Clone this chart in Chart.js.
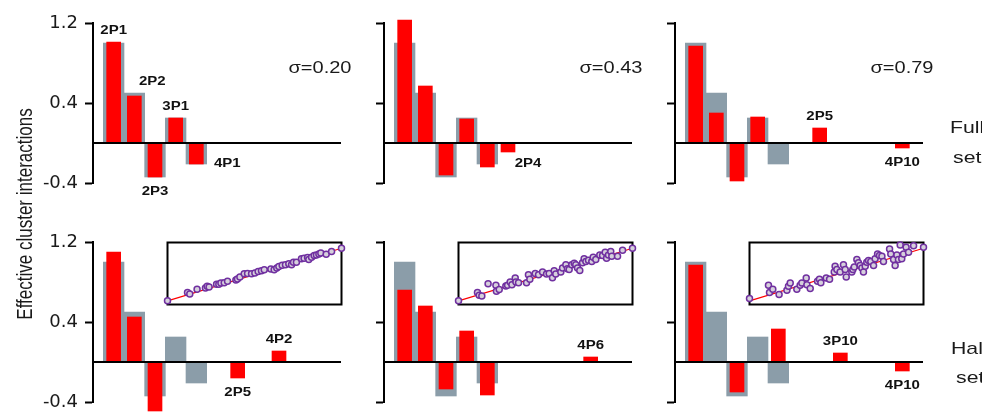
<!DOCTYPE html>
<html>
<head>
<meta charset="utf-8">
<title>Effective cluster interactions</title>
<script src="https://cdn.jsdelivr.net/npm/chart.js@4.4.1/dist/chart.umd.min.js"></script>
<style>
  body { margin: 0; background: #fff; }
  #fig { position: relative; width: 982px; height: 412px; overflow: hidden; }
  #fig canvas { position: absolute; }
</style>
</head>
<body>
<div id="fig">
  <canvas id="text" width="982" height="412" style="left:0;top:0"></canvas>
</div>
<script>
// noise level of each column
const sigmas = ['0.20', '0.43', '0.79'];
const yTicks = [-0.4, 0.4, 1.2];

// target ECIs (grey), the same in every panel
const truePos = [1, 2, 3, 4, 5];
const trueVals = [1.0, 0.5, -0.34, 0.25, -0.21];

// fitted ECIs (red), full training set
const fullPos = [[1, 2, 3, 4, 5], [1, 2, 3, 4, 5, 6], [1, 2, 3, 4, 7, 11]];
const fullVals = [
  [1.01, 0.47, -0.34, 0.25, -0.21],
  [1.23, 0.57, -0.32, 0.24, -0.24, -0.09],
  [0.97, 0.30, -0.38, 0.26, 0.15, -0.05]
];

// fitted ECIs (red), half training set
const halfPos = [[1, 2, 3, 7, 9], [1, 2, 3, 4, 5, 10], [1, 3, 5, 8, 11]];
const halfVals = [
  [1.10, 0.45, -0.49, -0.16, 0.11],
  [0.72, 0.56, -0.27, 0.31, -0.33, 0.05],
  [0.97, -0.30, 0.33, 0.09, -0.09]
];

// cluster names: [name, slot, side of the bar]
const fullLabels = [
  [['2P1', 1, 'above'], ['2P2', 2, 'aboveRight'], ['3P1', 4, 'above'], ['2P3', 3, 'below'], ['4P1', 5, 'right']],
  [['2P4', 6, 'belowRight']],
  [['2P5', 7, 'above'], ['4P10', 11, 'below']]
];
const halfLabels = [
  [['2P5', 7, 'below'], ['4P2', 9, 'above']],
  [['4P6', 10, 'above']],
  [['3P10', 8, 'above'], ['4P10', 11, 'below']]
];

// insets: predicted vs. true energies, half set
const insetX = [
  [0, 0.115, 0.128, 0.170, 0.218, 0.228, 0.239, 0.282, 0.295, 0.307, 0.326, 0.345, 0.393, 0.402, 0.416,
   0.441, 0.460, 0.483, 0.502, 0.521, 0.540, 0.556, 0.594, 0.613, 0.628, 0.640, 0.659, 0.678, 0.697,
   0.713, 0.724, 0.741, 0.770, 0.785, 0.805, 0.812, 0.828, 0.843, 0.856, 0.870, 0.881, 0.912, 0.943, 1],
  [0, 0.109, 0.119, 0.134, 0.170, 0.215, 0.218, 0.234, 0.272, 0.282, 0.297, 0.307, 0.326, 0.330, 0.345,
   0.391, 0.402, 0.410, 0.441, 0.460, 0.483, 0.506, 0.521, 0.540, 0.550, 0.559, 0.588, 0.598, 0.617,
   0.626, 0.636, 0.651, 0.665, 0.674, 0.684, 0.697, 0.713, 0.722, 0.732, 0.747, 0.766, 0.774, 0.789,
   0.812, 0.828, 0.843, 0.851, 0.862, 0.875, 0.881, 0.914, 0.943, 1],
  [0, 0.109, 0.115, 0.134, 0.170, 0.215, 0.224, 0.234, 0.272, 0.291, 0.301, 0.326, 0.330, 0.349, 0.391,
   0.402, 0.410, 0.441, 0.460, 0.487, 0.492, 0.502, 0.521, 0.540, 0.550, 0.556, 0.588, 0.594, 0.602,
   0.617, 0.626, 0.636, 0.646, 0.655, 0.665, 0.674, 0.684, 0.697, 0.713, 0.722, 0.736, 0.747, 0.761,
   0.770, 0.805, 0.812, 0.828, 0.837, 0.847, 0.856, 0.866, 0.875, 0.885, 0.900, 0.914, 0.943, 1]
];
const insetY = [
  [0, 0.157, 0.132, 0.220, 0.245, 0.277, 0.264, 0.314, 0.314, 0.340, 0.346, 0.371, 0.396, 0.415, 0.453,
   0.516, 0.522, 0.516, 0.528, 0.560, 0.572, 0.591, 0.604, 0.591, 0.623, 0.654, 0.679, 0.686, 0.704,
   0.686, 0.736, 0.736, 0.799, 0.811, 0.824, 0.786, 0.830, 0.862, 0.874, 0.893, 0.912, 0.887, 0.937, 1],
  [0, 0.157, 0.107, 0.094, 0.327, 0.296, 0.182, 0.214, 0.283, 0.296, 0.358, 0.308, 0.434, 0.358, 0.346,
   0.346, 0.497, 0.409, 0.522, 0.497, 0.547, 0.509, 0.522, 0.440, 0.572, 0.509, 0.547, 0.623, 0.686,
   0.610, 0.597, 0.686, 0.717, 0.686, 0.623, 0.579, 0.723, 0.799, 0.748, 0.774, 0.748, 0.830, 0.786,
   0.874, 0.862, 0.925, 0.811, 0.874, 0.937, 0.849, 0.849, 0.962, 1],
  [0.044, 0.296, 0.157, 0.220, 0.119, 0.201, 0.277, 0.340, 0.220, 0.296, 0.340, 0.434, 0.308, 0.233, 0.371,
   0.409, 0.346, 0.434, 0.409, 0.547, 0.660, 0.597, 0.547, 0.686, 0.597, 0.453, 0.547, 0.597, 0.642,
   0.786, 0.723, 0.673, 0.623, 0.547, 0.660, 0.736, 0.767, 0.748, 0.673, 0.799, 0.893, 0.862, 0.849,
   0.748, 0.987, 0.893, 0.786, 0.673, 0.874, 0.786, 1.063, 0.799, 0.893, 1.019, 0.925, 1.050, 1.019]
];
const fitLine = [0, 1];

const red = '#ff0000';
const grey = '#8b9da9';
const purple = '#7030a0';
const lilac = '#d6d0dc';
const colAxisX = [93, 384, 675];
const labelOffsets = {
  above: [0, -11],
  below: [0, 15],
  aboveRight: [18, -14],
  belowRight: [20, 12],
  right: [31, 0]
};

const fig = document.getElementById('fig');

function addCanvas(left, top, w, h) {
  const c = document.createElement('canvas');
  c.width = w;
  c.height = h;
  c.style.left = left + 'px';
  c.style.top = top + 'px';
  fig.appendChild(c);
  return c;
}

function stretchText(ctx, str, x, y) {
  ctx.save();
  ctx.translate(x, y);
  ctx.scale(1.25, 1);
  ctx.fillText(str, 0, 0);
  ctx.restore();
}

// zero line and cluster names
function panelDecor(labels, pos, vals) {
  return {
    id: 'panelDecor',
    afterDatasetsDraw(chart) {
      const { ctx, scales: { x, y } } = chart;
      const y0 = y.getPixelForValue(0);
      ctx.save();
      ctx.strokeStyle = '#000';
      ctx.lineWidth = 2;
      ctx.beginPath();
      ctx.moveTo(x.left, y0);
      ctx.lineTo(x.right, y0);
      ctx.stroke();

      ctx.fillStyle = '#111';
      ctx.textAlign = 'center';
      ctx.textBaseline = 'middle';
      ctx.font = 'bold 12px "Liberation Sans", Arial, sans-serif';
      labels.forEach(([name, at, side]) => {
        const v = vals[pos.indexOf(at)];
        const off = labelOffsets[side];
        stretchText(ctx, name, x.getPixelForValue(at) + off[0], y.getPixelForValue(v) + off[1]);
      });
      ctx.restore();
    }
  };
}

function makePanel(row, col) {
  const pos = row === 0 ? fullPos[col] : halfPos[col];
  const vals = row === 0 ? fullVals[col] : halfVals[col];
  const labels = row === 0 ? fullLabels[col] : halfLabels[col];
  const axisW = col === 0 ? 93 : 20;
  const top = row === 0 ? 0 : 219;
  const cv = addCanvas(colAxisX[col] - axisW, top, axisW + 248, 210);

  new Chart(cv, {
    type: 'bar',
    data: {
      datasets: [
        {
          data: pos.map((p, i) => ({ x: p, y: vals[i] })),
          backgroundColor: red,
          barThickness: 14,
          grouped: false,
          clip: false
        },
        {
          data: truePos.map((p, i) => ({ x: p, y: trueVals[i] })),
          backgroundColor: grey,
          barThickness: 20.67,
          grouped: false,
          clip: false
        }
      ]
    },
    options: {
      responsive: false,
      animation: false,
      layout: { padding: { top: 23, bottom: 27, left: 0, right: 0 } },
      scales: {
        x: { type: 'linear', min: 0, max: 12, offset: false, display: false },
        y: {
          min: -0.4,
          max: 1.2,
          afterBuildTicks: s => { s.ticks = yTicks.map(v => ({ value: v })); },
          afterFit: s => { s.width = axisW; },
          grid: { drawOnChartArea: false, tickLength: 8, tickWidth: 2, tickColor: '#000' },
          border: { color: '#000', width: 2 },
          ticks: {
            display: col === 0,
            padding: 7,
            color: '#1a1a1a',
            font: { family: 'DejaVu Sans', size: 18 },
            callback: v => v.toFixed(1)
          }
        }
      },
      plugins: { legend: { display: false }, tooltip: { enabled: false } }
    },
    plugins: [panelDecor(labels, pos, vals)]
  });
}

const insetBox = {
  id: 'insetBox',
  beforeDatasetsDraw(chart) {
    const { ctx, chartArea: a } = chart;
    ctx.save();
    ctx.strokeStyle = '#000';
    ctx.lineWidth = 2;
    ctx.strokeRect(a.left, a.top, a.width, a.height);
    ctx.restore();
  }
};

function makeInset(col) {
  const cv = addCanvas(colAxisX[col] + 74 - 5, 237, 185, 73);
  new Chart(cv, {
    type: 'scatter',
    data: {
      datasets: [
        {
          data: insetX[col].map((x, i) => ({ x, y: insetY[col][i] })),
          pointRadius: 3,
          pointBorderWidth: 1.5,
          pointBorderColor: purple,
          pointBackgroundColor: lilac,
          clip: false
        },
        {
          data: fitLine.map(v => ({ x: v, y: v })),
          showLine: true,
          borderColor: red,
          borderWidth: 1.2,
          pointRadius: 0,
          clip: false
        }
      ]
    },
    options: {
      responsive: false,
      animation: false,
      layout: { padding: 5 },
      scales: {
        x: { min: 0, max: 1, display: false },
        y: { min: -0.07, max: 1.11, display: false }
      },
      plugins: { legend: { display: false }, tooltip: { enabled: false } }
    },
    plugins: [insetBox]
  });
}

// figure text: axis title, sigma values, row names
function drawText() {
  const ctx = document.getElementById('text').getContext('2d');
  ctx.fillStyle = '#1a1a1a';
  ctx.font = '17px "Liberation Sans", Arial, sans-serif';

  ctx.save();
  ctx.translate(32, 214);
  ctx.rotate(-Math.PI / 2);
  ctx.scale(1, 1.25);
  ctx.textAlign = 'center';
  ctx.fillText('Effective cluster interactions', 0, 0);
  ctx.restore();

  ctx.textAlign = 'left';
  stretchText(ctx, 'Full', 950, 133);
  stretchText(ctx, 'set', 953, 163);
  stretchText(ctx, 'Half', 951, 354);
  stretchText(ctx, 'set', 956, 383);

  ctx.font = '16px "Liberation Sans", Arial, sans-serif';
  ctx.textAlign = 'center';
  sigmas.forEach((s, i) => {
    stretchText(ctx, '\u03c3=' + s, colAxisX[i] + 227, 73);
  });
}

drawText();
[0, 1].forEach(row => [0, 1, 2].forEach(col => makePanel(row, col)));
[0, 1, 2].forEach(makeInset);
</script>
</body>
</html>
